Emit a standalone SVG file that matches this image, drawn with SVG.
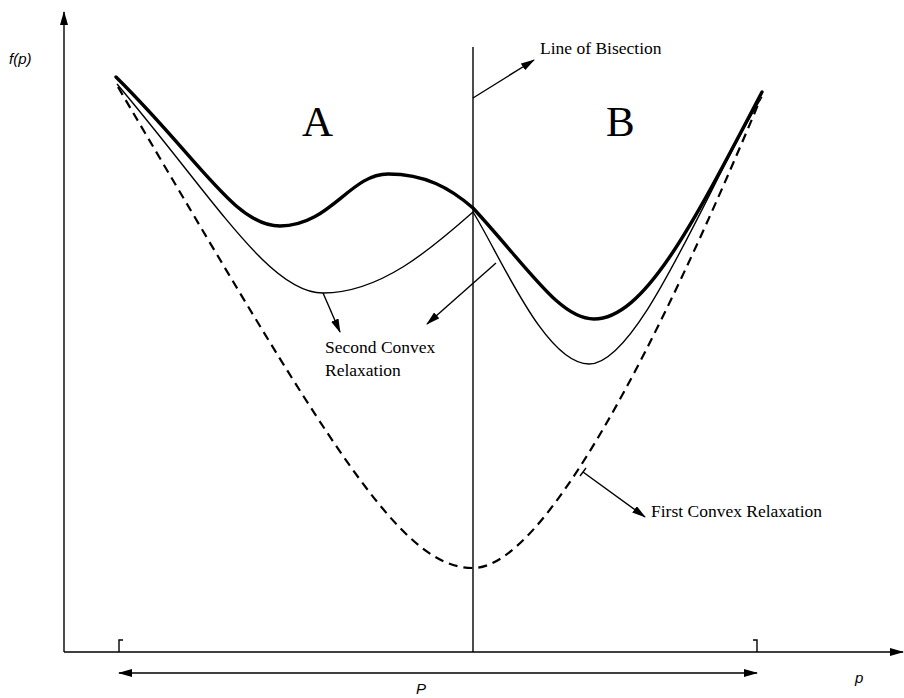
<svg xmlns="http://www.w3.org/2000/svg" width="904" height="698" viewBox="0 0 904 698">
<defs>
<marker id="ah" viewBox="0 0 14 8" refX="13" refY="4" markerWidth="14" markerHeight="8" markerUnits="userSpaceOnUse" orient="auto-start-reverse">
<path d="M0,0 L14,4 L0,8 Z" fill="#000"/>
</marker>
</defs>
<style>
.ax{stroke:#000;stroke-width:1.4;fill:none}
.thick{stroke:#000;stroke-width:3.4;fill:none;stroke-linecap:round}
.thin{stroke:#000;stroke-width:1.4;fill:none}
.dash{stroke:#000;stroke-width:2.2;fill:none;stroke-dasharray:9 6}
.ln{stroke:#000;stroke-width:1.4;fill:none}
.serif{font-family:"Liberation Serif","Times New Roman",serif;fill:#000}
.ital{font-family:"Liberation Sans",Arial,sans-serif;font-style:italic;fill:#000}
</style>
<rect width="904" height="698" fill="#fff"/>
<g id="axes">
<line class="ax" x1="64" y1="652" x2="64" y2="12" marker-end="url(#ah)"/>
<line class="ax" x1="64" y1="652" x2="903" y2="652" marker-end="url(#ah)"/>
<path class="ax" d="M123,640 L119,640 L119,652"/>
<path class="ax" d="M753,640 L757,640 L757,652"/>
<line class="ax" x1="119" y1="673" x2="757" y2="673" marker-start="url(#ah)" marker-end="url(#ah)"/>
</g>
<g id="curves">
<path id="first-relaxation" class="dash" d="M118,87 C330,447 400,568 473,568 C545,568 660,340 760,100"/>
<path id="second-relaxation" class="thin" d="M117,84 C215,200 270,293 323,293 C380,293 430,250 473,212 C500,255 545,364 589,364 C640,364 710,180 762,97"/>
<path id="function" class="thick" d="M116,77 C200,160 235,226 280,226 C330,226 350,174 388,174 C425,174 450,188 473,208 C530,270 560,319 594,319 C645,319 695,220 762,92"/>
<line id="bisection" class="ln" x1="473" y1="47" x2="473" y2="652"/>
</g>
<g id="connectors">
<line class="ln" x1="473" y1="98" x2="534" y2="60" marker-end="url(#ah)"/>
<line class="ln" x1="323" y1="293" x2="340" y2="332" marker-end="url(#ah)"/>
<line class="ln" x1="496" y1="263" x2="427" y2="324" marker-end="url(#ah)"/>
<line class="ln" x1="583" y1="472" x2="645" y2="517" marker-end="url(#ah)"/>
<line class="ln" x1="580" y1="476" x2="586" y2="468"/>
</g>
<g id="labels">
<text class="ital" x="9" y="64" font-size="15">f(p)</text>
<text class="serif" x="302" y="136" font-size="43">A</text>
<text class="serif" x="606" y="136" font-size="43">B</text>
<text class="serif" x="540" y="54" font-size="17.5">Line of Bisection</text>
<text class="serif" x="325" y="353" font-size="17.5">Second Convex</text>
<text class="serif" x="325" y="376" font-size="17.5">Relaxation</text>
<text class="serif" x="651" y="517" font-size="17.5">First Convex Relaxation</text>
<text class="ital" x="416" y="694" font-size="15">P</text>
<text class="ital" x="855" y="683" font-size="15">p</text>
</g>
</svg>
